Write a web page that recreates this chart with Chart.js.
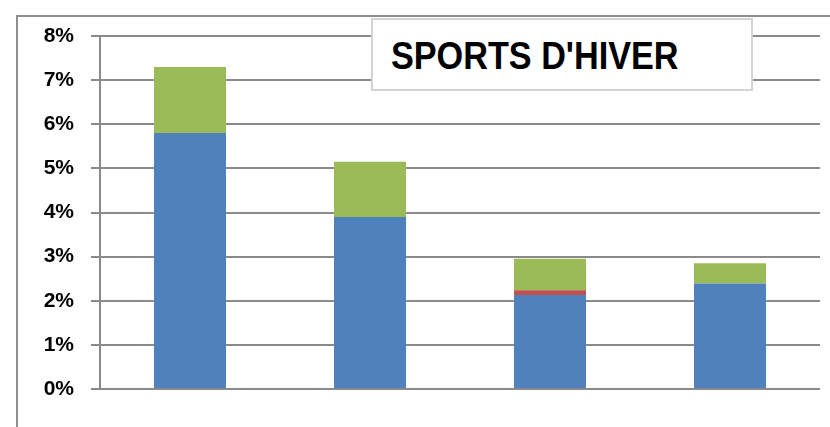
<!DOCTYPE html>
<html>
<head>
<meta charset="utf-8">
<script src="https://cdn.jsdelivr.net/npm/chart.js@4/dist/chart.umd.min.js"></script>
<style>
  html, body { margin: 0; padding: 0; background: #fff; }
  #frame {
    position: absolute; left: 16px; top: 15px; width: 830px; height: 430px;
    border-left: 2px solid #8e8e8e; border-top: 2px solid #8e8e8e;
  }
  #wrap { position: absolute; left: 0; top: 0; width: 830px; height: 427px; }
  #title {
    position: absolute; left: 371px; top: 18px; width: 360px; height: 69px;
    border: 2px solid #d3d3d3; background: #fff;
    font-family: "Liberation Sans", Arial, sans-serif; font-weight: bold;
    font-size: 38px; color: #000;
    display: flex; align-items: center; padding-left: 18px; box-sizing: content-box;
  }
  #title span {
    display: inline-block; margin-top: 3px;
    transform: scaleX(0.9); transform-origin: left center; white-space: nowrap;
  }
</style>
</head>
<body>
<div id="frame"></div>
<div id="wrap"><canvas id="c" width="830" height="427"></canvas></div>
<div id="title"><span>SPORTS D'HIVER</span></div>
<script>
  // Values, in percent.
  const categories = ["1", "2", "3", "4"];
  const serieBleue = [5.80, 3.90, 2.13, 2.39];
  const serieRouge = [0, 0, 0.11, 0];
  const serieVerte = [1.50, 1.25, 0.71, 0.46];
  const yTicks = [0, 1, 2, 3, 4, 5, 6, 7, 8];

  const gridColor = "#8a8a8a";

  new Chart(document.getElementById("c"), {
    type: "bar",
    data: {
      labels: categories,
      datasets: [
        { label: "Série 1", data: serieBleue, backgroundColor: "#4f81bd" },
        { label: "Série 2", data: serieRouge, backgroundColor: "#c0504d" },
        { label: "Série 3", data: serieVerte, backgroundColor: "#9bbb59" },
      ],
    },
    options: {
      responsive: false,
      animation: false,
      layout: { padding: { top: 36, right: 10, bottom: 38, left: 0 } },
      datasets: { bar: { barPercentage: 0.4, categoryPercentage: 1 } },
      scales: {
        x: {
          stacked: true,
          grid: { display: false },
          border: { display: false },
          ticks: { display: false },
          afterFit: (axis) => { axis.height = 0; },
        },
        y: {
          stacked: true,
          min: 0,
          max: 8,
          afterBuildTicks: (axis) => { axis.ticks = yTicks.map((v) => ({ value: v })); },
          afterFit: (axis) => { axis.width = 100; },
          grid: { color: gridColor, lineWidth: 2, tickLength: 9 },
          border: { color: gridColor, width: 2 },
          ticks: {
            padding: 17,
            color: "#000",
            font: { family: "Liberation Sans", weight: "bold", size: 21 },
            callback: (v) => v + "%",
          },
        },
      },
      plugins: {
        legend: { display: false },
        tooltip: { enabled: false },
      },
    },
  });
</script>
</body>
</html>
